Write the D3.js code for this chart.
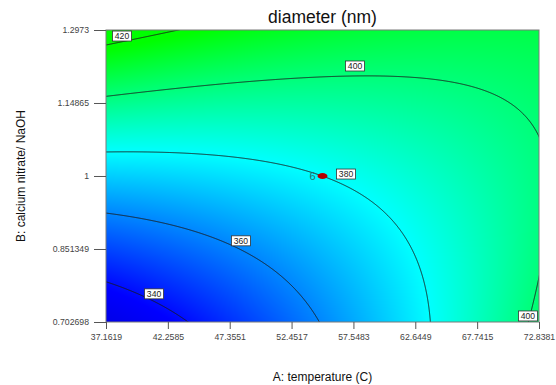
<!DOCTYPE html>
<html>
<head>
<meta charset="utf-8">
<script src="https://cdn.jsdelivr.net/npm/d3@7"></script>
<style>
  body { margin: 0; background: #fff; }
  svg { display: block; font-family: "Liberation Sans", Arial, sans-serif; }
</style>
</head>
<body>
<svg id="chart" width="556" height="385"></svg>
<script>
// A: temperature (C)
const xTicks = [37.1619, 42.2585, 47.3551, 52.4517, 57.5483, 62.6449, 67.7415, 72.8381]
const xTickLabels = ['37.1619', '42.2585', '47.3551', '52.4517', '57.5483', '62.6449', '67.7415', '72.8381']
// B: calcium nitrate/ NaOH
const yTicks = [0.702698, 0.851349, 1, 1.14865, 1.2973]
const yTickLabels = ['0.702698', '0.851349', '1', '1.14865', '1.2973']

// diameter (nm) estimated at the tick crossings, rows from bottom (B low) to top
const diameterGrid = [
  [329.5, 337.3, 345.9, 355.4, 365.8, 377.1, 389.3, 402.3],
  [349.2, 353.7, 359.1, 365.3, 372.5, 380.5, 389.4, 399.1],
  [371.9, 373.1, 375.2, 378.2, 382.0, 386.8, 392.4, 398.9],
  [397.5, 395.5, 394.3, 394.0, 394.6, 396.1, 398.4, 401.6],
  [426.1, 420.8, 416.4, 412.8, 410.1, 408.3, 407.4, 407.3],
]

const contourLevels = [340, 360, 380, 400, 420]
// where each contour label sits (A, B)
const labelLevels = [420, 400, 380, 360, 340, 400]
const labelA = [38.48, 57.68, 56.94, 48.28, 41.12, 71.93]
const labelB = [1.285, 1.224, 1.004, 0.868, 0.76, 0.715]

const designPoints = [{ id: '6', a: 55, b: 1 }]

const plotLeft = 106
const plotRight = 539
const plotTop = 30
const plotBottom = 322
const w = plotRight - plotLeft
const h = plotBottom - plotTop

const svg = d3.select('#chart')

const x = d3.scaleLinear().domain([xTicks[0], xTicks[xTicks.length - 1]]).range([plotLeft, plotRight])
const y = d3.scaleLinear().domain([yTicks[0], yTicks[yTicks.length - 1]]).range([plotBottom, plotTop])

const color = d3
  .scaleLinear()
  .domain([320, 338, 380, 418])
  .range(['rgb(0,0,205)', '#0000ff', '#00ffff', '#00ff00'])
  .clamp(true)

// quadratic response surface fitted to the grid (least squares)
const aMid = (x.domain()[0] + x.domain()[1]) / 2
const aHalf = (x.domain()[1] - x.domain()[0]) / 2
const bMid = (y.domain()[0] + y.domain()[1]) / 2
const bHalf = (y.domain()[1] - y.domain()[0]) / 2

function terms(A, B) {
  const a = (A - aMid) / aHalf
  const b = (B - bMid) / bHalf
  return [1, a, b, a * b, a * a, b * b]
}

const XtX = d3.range(6).map(() => new Array(6).fill(0))
const Xty = new Array(6).fill(0)
yTicks.forEach((B, j) => {
  xTicks.forEach((A, i) => {
    const t = terms(A, B)
    const v = diameterGrid[j][i]
    for (let p = 0; p < 6; p++) {
      Xty[p] += t[p] * v
      for (let q = 0; q < 6; q++) XtX[p][q] += t[p] * t[q]
    }
  })
})

function solve(M, v) {
  const n = v.length
  const m = M.map((row, i) => [...row, v[i]])
  for (let c = 0; c < n; c++) {
    let piv = c
    for (let r = c + 1; r < n; r++) if (Math.abs(m[r][c]) > Math.abs(m[piv][c])) piv = r
    ;[m[c], m[piv]] = [m[piv], m[c]]
    for (let r = 0; r < n; r++) {
      if (r === c) continue
      const f = m[r][c] / m[c][c]
      for (let k = c; k <= n; k++) m[r][k] -= f * m[c][k]
    }
  }
  return m.map((row, i) => row[n] / row[i])
}

const coef = solve(XtX, Xty)
const model = (A, B) => d3.sum(terms(A, B), (t, k) => t * coef[k])

// colour fill as a raster image
const canvas = document.createElement('canvas')
canvas.width = w
canvas.height = h
const ctx = canvas.getContext('2d')
const img = ctx.createImageData(w, h)
for (let py = 0; py < h; py++) {
  for (let px = 0; px < w; px++) {
    const c = d3.rgb(color(model(x.invert(plotLeft + px + 0.5), y.invert(plotTop + py + 0.5))))
    const k = (py * w + px) * 4
    img.data[k] = c.r
    img.data[k + 1] = c.g
    img.data[k + 2] = c.b
    img.data[k + 3] = 255
  }
}
ctx.putImageData(img, 0, 0)

svg
  .append('defs')
  .append('clipPath')
  .attr('id', 'plot-clip')
  .append('rect')
  .attr('x', plotLeft)
  .attr('y', plotTop)
  .attr('width', w)
  .attr('height', h)

svg
  .append('image')
  .attr('x', plotLeft)
  .attr('y', plotTop)
  .attr('width', w)
  .attr('height', h)
  .attr('preserveAspectRatio', 'none')
  .attr('href', canvas.toDataURL())

// contour lines, computed a little past the frame then clipped
const pad = 4
const x0 = plotLeft - pad
const y0 = plotTop - pad
const nx = w + 2 * pad
const ny = h + 2 * pad
const values = new Array(nx * ny)
for (let j = 0; j < ny; j++) {
  for (let i = 0; i < nx; i++) {
    values[j * nx + i] = model(x.invert(x0 + i + 0.5), y.invert(y0 + j + 0.5))
  }
}
const contours = d3.contours().size([nx, ny]).thresholds(contourLevels)(values)
const path = d3.geoPath(
  d3.geoTransform({
    point(px, py) {
      this.stream.point(x0 + px, y0 + py)
    },
  })
)

svg
  .append('g')
  .attr('clip-path', 'url(#plot-clip)')
  .selectAll('path')
  .data(contours)
  .join('path')
  .attr('d', path)
  .attr('fill', 'none')
  .attr('stroke', '#1a1a1a')
  .attr('stroke-width', 0.9)

// frame
svg
  .append('rect')
  .attr('x', plotLeft)
  .attr('y', plotTop)
  .attr('width', w)
  .attr('height', h)
  .attr('fill', 'none')
  .attr('stroke', '#7a7a7a')
  .attr('stroke-width', 1)

// contour labels
const labels = svg
  .append('g')
  .selectAll('g')
  .data(labelLevels)
  .join('g')
  .attr('transform', (d, i) => `translate(${x(labelA[i])},${y(labelB[i])})`)

labels
  .append('rect')
  .attr('x', -9.5)
  .attr('y', -5)
  .attr('width', 19)
  .attr('height', 10)
  .attr('fill', '#fff')
  .attr('stroke', '#333')
  .attr('stroke-width', 0.8)

labels
  .append('text')
  .text((d) => d)
  .attr('text-anchor', 'middle')
  .attr('dy', '0.35em')
  .style('font-size', '8.6px')
  .attr('fill', '#222')

// design point
const pts = svg
  .append('g')
  .selectAll('g')
  .data(designPoints)
  .join('g')
  .attr('transform', (d) => `translate(${x(d.a)},${y(d.b)})`)

pts.append('ellipse').attr('rx', 5).attr('ry', 3).attr('fill', '#b40000')
pts
  .append('text')
  .text((d) => d.id)
  .attr('x', -7)
  .attr('dy', '0.36em')
  .attr('text-anchor', 'end')
  .style('font-size', '11px')
  .attr('fill', '#2a6e6e')

// axes
const xAxis = svg
  .append('g')
  .attr('transform', `translate(0,${plotBottom})`)
  .call(
    d3
      .axisBottom(x)
      .tickValues(xTicks)
      .tickFormat((d, i) => xTickLabels[i])
      .tickSize(7)
      .tickPadding(5)
  )
const yAxis = svg
  .append('g')
  .attr('transform', `translate(${plotLeft},0)`)
  .call(
    d3
      .axisLeft(y)
      .tickValues(yTicks)
      .tickFormat((d, i) => yTickLabels[i])
      .tickSize(12)
      .tickPadding(5)
  )

for (const ax of [xAxis, yAxis]) {
  ax.select('.domain').remove()
  ax.selectAll('line').attr('stroke', '#555')
  ax.selectAll('text')
    .attr('fill', '#444')
    .style('font-size', '8.7px')
    .style('font-family', '"Liberation Sans", Arial, sans-serif')
}

// titles
svg
  .append('text')
  .attr('x', (plotLeft + plotRight) / 2)
  .attr('y', 23)
  .attr('text-anchor', 'middle')
  .style('font-size', '17.5px')
  .attr('fill', '#111')
  .text('diameter (nm)')

svg
  .append('text')
  .attr('x', (plotLeft + plotRight) / 2)
  .attr('y', 381)
  .attr('text-anchor', 'middle')
  .style('font-size', '12px')
  .attr('fill', '#111')
  .text('A: temperature (C)')

svg
  .append('text')
  .attr('transform', `translate(25,${(plotTop + plotBottom) / 2}) rotate(-90)`)
  .attr('text-anchor', 'middle')
  .style('font-size', '12px')
  .attr('fill', '#111')
  .text('B: calcium nitrate/ NaOH')
</script>
</body>
</html>
